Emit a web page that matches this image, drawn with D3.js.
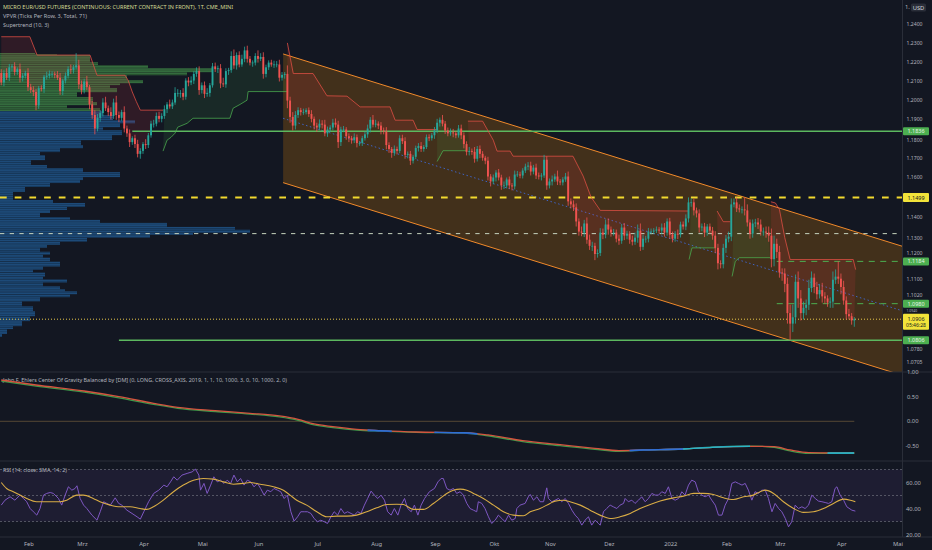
<!DOCTYPE html>
<html><head><meta charset="utf-8">
<script src="https://cdn.jsdelivr.net/npm/d3@7"></script>
<style>
html,body{margin:0;padding:0;background:#131722;overflow:hidden;}
svg{display:block;font-family:"Noto Sans","Open Sans",sans-serif;}
</style></head><body>
<svg id="c" width="932" height="550"></svg>
<script>
// ---------------- DATA ----------------
// daily closes, in pips above 1.0000 (e.g. 2090 = 1.2090), weekdays from 2021-01-18
const closes = [
2090,2140,2115,2170,2175, 2145,2160,2115,2125,2140, 2065,2050,2040,1970,2060, 2055,2120,2125,2135,2135,
2130,2115,2045,2100,2125, 2160,2155,2170,2180,2080, 2050,2095,2065,1975,1920, 1850,1905,1930,1985,1955,
1935,1915,1985,1920,1905, 1935,1850,1825,1780,1800, 1770,1720,1735,1770,1765, 1815,1875,1875,1915,1900,
1915,1950,1975,1965,1985, 2035,2035,2035,2015,2100, 2090,2100,2135,2150,2050, 2075,2030,2035,2075,2175,
2160,2165,2085,2080,2150, 2155,2230,2180,2235,2185, 2215,2260,2215,2195,2195, 2230,2215,2225,2135,2170,
2195,2185,2185,2185,2115, 2130,2135,1995,1910,1865, 1920,1945,1935,1935,1945, 1925,1900,1865,1855,1875,
1870,1825,1845,1855,1880, 1870,1780,1845,1845,1810, 1800,1790,1805,1775,1775, 1800,1820,1850,1895,1870,
1875,1865,1840,1835,1765, 1745,1725,1745,1735,1800, 1785,1715,1720,1685,1705, 1750,1760,1745,1755,1805,
1800,1815,1840,1880,1895, 1875,1840,1825,1830,1825, 1815,1850,1815,1770,1730, 1735,1730,1695,1745,1720,
1700,1685,1605,1580,1600, 1625,1600,1560,1560,1590, 1560,1555,1615,1615,1610, 1635,1655,1660,1630,1650,
1610,1605,1610,1690,1560, 1580,1590,1605,1580,1575, 1590,1605,1480,1465,1450, 1380,1330,1325,1370,1290,
1260,1260,1220,1225,1325, 1315,1365,1340,1325,1325, 1295,1285,1350,1310,1320, 1290,1280,1300,1335,1255,
1295,1295,1330,1330,1335, 1340,1335,1350,1325,1380, 1315,1295,1320,1315,1365, 1355,1395,1475,1475,1435,
1420,1350,1355,1325,1355, 1335,1310,1250,1175,1170, 1250,1295,1305,1465,1475, 1445,1440,1440,1435,1375,
1320,1370,1375,1365,1330, 1330,1325,1310,1195,1270, 1230,1130,1125,1075,935, 885,915,1085,1005,935,
960,975,1055,1105,1060, 1025,1045,1015,1005,985, 990,1095,1110,1100,1060, 995,930,920,900,906
];
const firstOpen = 2140;
// upper / lower wick length in pips
const wickUp = [
20,15,25,18,12, 22,10,30,15,12, 25,18,20,15,12, 15,10,22,18,14, 12,20,25,10,18, 15,25,12,65,30, 20,15,30,12,18, 25,20,15,22,30,
14,25,20,35,18, 12,30,15,20,10, 18,22,14,10,25, 12,15,20,18,22, 14,20,12,25,15, 30,20,15,25,12, 18,22,14,20,25, 15,20,25,12,18,
20,14,22,30,15, 12,25,35,14,20, 22,20,25,15,12, 15,30,20,25,14, 12,15,20,18,25, 15,10,45,20,25, 20,15,12,18,10, 14,20,12,15,22,
18,25,15,12,20, 22,20,14,18,12, 15,12,20,14,10, 12,15,20,14,25, 20,12,18,15,22, 14,10,18,12,15, 18,20,12,15,10, 12,15,20,10,14,
15,12,18,20,12, 25,14,15,20,18, 12,18,20,15,14, 20,12,25,15,18, 14,10,20,12,15, 12,18,14,20,10, 15,12,20,18,14, 12,15,18,20,14,
20,15,12,25,18, 15,20,14,30,12, 12,18,25,15,20, 20,15,25,18,30, 25,20,15,18,22, 20,25,30,15,18, 15,20,18,22,14, 12,20,25,30,35,
20,14,18,15,12, 15,12,20,22,15, 18,15,12,20,14, 15,20,25,20,18, 14,20,15,18,12, 15,18,22,20,14, 20,18,25,30,20, 25,20,15,59,30,
15,20,18,22,25, 20,25,30,35,40, 25,30,20,25,30, 40,60,35,50,40, 30,25,40,30,20, 25,30,35,20,15, 20,40,35,74,25, 30,20,25,15,10
];
const wickDn = [
15,20,12,18,22, 18,15,25,20,14, 20,15,22,25,18, 12,20,15,14,18, 18,12,20,22,15, 14,20,18,12,25, 22,18,15,25,20, 30,15,20,18,14,
20,18,15,25,22, 15,20,18,25,14, 20,18,25,15,20, 15,12,20,14,18, 18,15,20,12,14, 12,20,25,18,15, 20,14,18,15,25, 18,22,15,20,12,
15,20,25,14,18, 20,14,18,22,15, 12,18,20,15,22, 15,20,12,25,18, 14,12,18,15,20, 15,20,40,30,25, 20,15,18,14,12, 15,18,20,22,14,
20,15,18,12,14, 15,30,20,14,18, 20,18,15,22,14, 15,12,18,20,14, 14,18,20,15,22, 20,25,15,18,12, 15,20,18,22,14, 12,18,15,14,10,
15,12,18,14,20, 14,18,15,12,20, 15,12,20,22,18, 18,15,20,14,22, 15,18,20,25,14, 20,15,22,18,15, 18,20,15,12,14, 15,12,18,20,14,
18,15,20,12,22, 15,20,12,18,14, 15,12,22,20,18, 25,20,18,22,20, 20,25,30,18,15, 22,18,25,20,15, 18,20,15,22,18, 20,18,15,25,20,
15,20,18,14,12, 12,15,18,20,15, 20,18,15,22,14, 15,18,20,22,25, 20,25,18,22,15, 15,20,25,30,20, 20,25,18,22,15, 18,15,20,25,20,
25,20,18,22,20, 20,25,30,40,35, 30,25,35,40,50, 79,40,30,45,35, 30,35,25,20,30, 25,20,30,25,20, 25,30,20,25,35, 20,25,15,20,30
];
// Supertrend (10,3) knots: [bar, pips]
const stRed1 = [[0,2333],[10.7,2333],[13.4,2235],[33.2,2235],[35.8,2128],[46.3,2128],[47.5,2100],[49,2040],[50.5,1990],[52,1945],[60.5,1945]];
const stGreen1 = [[60.5,1734],[62,1790],[63.5,1805],[65,1826],[66,1857],[69.5,1877],[71.7,1903],[85.5,1903],[86.7,1955],[89.3,1975],[91.9,1997],[92.3,2042],[106.9,2042]];
const stRed2 = [[107,2300],[109.2,2137],[116.6,2137],[121.8,2020],[129.3,2018],[134.2,1962],[145.4,1962],[147.3,1893],[154,1893],[155.5,1845],[163,1845]];
const stGreen2 = [[163,1681],[165.2,1736],[174.2,1736]];
const stRed3 = [[174.5,1888],[180,1888],[184,1790],[185.4,1734],[190.3,1734],[191.4,1708],[213.8,1708],[217.6,1607],[220.5,1503],[224,1435],[257,1432]];
const stGreen3 = [[257.2,1193],[258.3,1250],[267.2,1250]];
const stRed4 = [[267.7,1432],[270,1379],[272.6,1379]];
const stGreen4 = [[273.3,1111],[274.5,1184],[276,1202],[287.5,1202]];
const stRed5 = [[287.8,1478],[289.5,1472],[291,1440],[293,1300],[295,1193],[318.6,1193],[319.5,1144]];
// Volume profile rows: [row top in pips, relative volume]
const vpRows = [
[2246,35],[2240,57],[2235,90],[2197,98],[2181,148],[2165,213],[2144,187],[2128,127],[2112,127],[2102,143],[2086,120],[2076,110],[2060,117],[2039,77],[2013,93],[1987,97],[1971,67],[1955,100],
[1940,103],[1919,113],[1893,135],[1877,120],[1857,103],[1841,122],[1816,112],[1790,81],[1764,83],[1749,60],[1729,40],[1713,45],[1688,31],[1663,47],[1647,83],[1627,120],[1602,83],[1587,80],[1572,50],[1552,25],[1527,13],[1502,13],[1487,53],[1472,85],[1452,67],[1437,50],[1422,40],[1402,70],[1388,100],[1373,167],[1353,235],[1339,250],[1324,193],[1314,150],[1300,87],[1280,60],[1265,47],[1251,40],[1231,50],[1217,43],[1202,50],[1183,60],[1159,43],[1144,33],[1130,45],[1110,43],[1096,67],[1082,43],[1063,60],[1049,65],[1039,77],[1025,70],[1011,40],[991,22],[967,33],[944,35],[920,30],[897,22],[873,13],[859,7],[836,2]
];
const vpBottom = 822;
const vpSplit = 1940;
// regression channel
const channelBars = [105.4, 336.9];
const channelUpper = [1.2241, 1.1258];
const channelLower = [1.1574, 1.0643];
// horizontal levels: [price, start bar]
const levelRes = [1.1836, 49];
const levelYellow = [1.1499, 0];
const levelWhite = [1.1320, 0];
const levelRes2 = [1.1184, 290];
const levelSup = [1.0980, 290];
const levelLow = [1.0806, 44];
const lastPrice = 1.0906;
const lastTime = "05:46:28";
// price axis ticks
const priceTicks = [1.24,1.23,1.22,1.21,1.20,1.19,1.18,1.17,1.16,1.14,1.13,1.12,1.11,1.102,1.094,1.078,1.0705];
// time axis
const startDate = [2021,0,18];
const monthTicks = [[2021,1,"Feb"],[2021,2,"Mrz"],[2021,3,"Apr"],[2021,4,"Mai"],[2021,5,"Jun"],[2021,6,"Jul"],[2021,7,"Aug"],[2021,8,"Sep"],[2021,9,"Okt"],[2021,10,"Nov"],[2021,11,"Dez"],[2022,0,"2022"],[2022,1,"Feb"],[2022,2,"Mrz"],[2022,3,"Apr"],[2022,4,"Mai"]];
// Center of Gravity pane
const cogBars = [0,13,31,44,57,66,80,93,104,111,117,124,133,142,155,173,182,195,209,222,231,240,255,266,280,289,295,302,311,319];
const cogA = [0.843,0.741,0.618,0.503,0.367,0.285,0.217,0.163,0.109,0.041,-0.054,-0.109,-0.163,-0.190,-0.218,-0.231,-0.279,-0.395,-0.476,-0.551,-0.599,-0.585,-0.565,-0.531,-0.510,-0.517,-0.585,-0.640,-0.647,-0.647];
const cogB = [0.82,0.72,0.595,0.48,0.345,0.265,0.2,0.148,0.09,0.02,-0.075,-0.128,-0.178,-0.2,-0.225,-0.24,-0.295,-0.415,-0.497,-0.57,-0.612,-0.59,-0.565,-0.527,-0.505,-0.53,-0.605,-0.655,-0.655,-0.65];
const cogBlueRanges = [[137,146],[162,178],[235,255]];
const cogTealRanges = [[255,280],[309,319]];
const cogTicks = [1.0,0.5,0.0,-0.5];
// RSI pane: [bar, value]
const rsiPts = [[0,42.6],[1.4,46.4],[3.3,49.0],[5.1,46.4],[7.0,50.3],[8.3,47.7],[9.5,45.2],[10.8,40.0],[12.0,37.5],[13.3,34.9],[14.5,40.0],[15.8,50.3],[17.0,51.6],[18.3,52.3],[19.5,51.6],[21.4,47.7],[22.6,42.6],[23.9,50.3],[25.1,56.7],[26.4,54.1],[27.6,55.4],[28.3,57.5],[29.5,47.7],[30.8,42.6],[32.0,40.0],[33.9,34.9],[35.8,31.0],[37.0,37.5],[38.3,45.2],[39.5,43.9],[40.8,42.6],[42.6,48.2],[43.9,43.9],[45.1,42.6],[47.0,38.7],[48.9,36.2],[50.8,33.6],[52.0,31.8],[53.3,37.5],[55.1,45.2],[57.0,51.6],[58.9,54.1],[60.8,58.0],[62.0,56.7],[63.3,60.5],[64.5,64.4],[65.8,61.8],[67.6,65.7],[69.5,67.0],[71.4,68.2],[72.6,70.3],[73.9,65.7],[74.5,54.1],[75.8,59.3],[77.0,51.6],[78.3,58.0],[79.5,64.4],[80.8,60.5],[82.0,61.8],[83.3,59.3],[84.5,61.8],[85.8,59.3],[87.0,65.7],[88.3,60.5],[89.5,63.1],[90.8,58.0],[92.0,61.8],[93.3,60.5],[94.5,56.7],[95.8,59.3],[97.0,55.4],[98.3,50.3],[99.5,54.1],[100.8,52.9],[102.0,55.4],[103.3,54.1],[104.5,52.9],[105.8,47.7],[107.0,50.3],[108.3,37.5],[109.5,30.3],[110.8,33.6],[112.0,37.5],[113.3,37.5],[114.5,37.5],[115.8,36.2],[117.0,32.3],[118.3,29.8],[119.5,31.0],[120.8,29.8],[122.0,28.5],[123.3,33.6],[124.5,37.5],[125.8,34.9],[127.0,40.0],[128.3,36.2],[129.5,37.5],[130.8,36.2],[132.0,34.9],[133.3,37.5],[134.5,36.2],[135.8,42.6],[137.0,47.7],[138.3,53.4],[139.5,50.3],[140.8,47.7],[142.0,50.3],[143.3,46.4],[144.5,37.5],[145.8,34.9],[147.0,40.0],[148.3,34.9],[149.5,42.6],[150.8,47.7],[152.0,40.0],[153.3,37.5],[154.5,42.6],[155.8,34.9],[157.0,42.6],[158.3,47.7],[160.1,52.9],[162.0,55.4],[163.3,60.5],[164.5,63.1],[165.3,63.1],[166.6,55.4],[167.8,54.1],[169.1,55.4],[170.3,51.6],[171.6,52.9],[172.8,50.3],[174.1,43.9],[175.3,40.0],[176.6,38.7],[177.8,37.5],[178.4,45.2],[179.7,43.9],[180.9,40.0],[182.2,33.6],[183.4,28.5],[184.7,31.0],[185.9,34.9],[187.2,32.3],[188.4,29.8],[189.7,34.9],[190.9,31.0],[192.2,32.3],[192.8,40.0],[194.0,42.6],[195.9,43.9],[197.1,49.0],[197.8,50.8],[199.0,46.4],[200.3,49.0],[201.5,45.2],[202.8,45.2],[204.0,55.9],[204.6,47.7],[205.9,45.2],[207.1,46.4],[208.4,47.7],[209.6,45.2],[210.9,47.7],[212.1,43.9],[213.4,38.7],[214.6,34.9],[215.8,32.3],[217.1,27.2],[218.3,31.0],[219.6,33.6],[220.8,27.2],[222.1,31.0],[223.3,28.5],[224.0,27.2],[225.2,37.5],[226.4,40.0],[227.7,42.6],[228.9,41.3],[230.2,40.0],[231.4,42.6],[232.7,43.9],[233.3,47.7],[234.5,45.2],[235.8,46.4],[237.0,43.9],[238.3,46.4],[239.5,49.0],[240.8,45.2],[242.0,47.7],[243.3,51.6],[244.5,50.3],[245.8,50.3],[247.0,52.9],[248.3,51.6],[249.5,56.7],[250.8,47.7],[252.0,46.4],[253.3,47.7],[254.5,52.9],[255.7,50.3],[257.0,58.0],[258.2,61.8],[259.5,60.5],[260.7,52.9],[262.0,50.3],[263.2,49.0],[264.5,50.3],[265.7,46.4],[267.0,42.6],[268.2,34.9],[269.5,34.9],[270.7,42.6],[272.0,47.7],[273.2,59.3],[274.5,60.5],[275.7,59.3],[277.0,58.0],[278.2,59.3],[279.4,54.1],[280.7,46.4],[281.9,52.9],[283.2,51.6],[284.4,54.1],[285.7,54.1],[286.9,47.7],[288.2,37.5],[289.4,43.9],[290.7,40.0],[291.9,37.5],[293.2,32.3],[294.4,25.9],[295.6,29.8],[296.9,42.6],[298.1,40.0],[299.4,41.3],[300.6,40.0],[301.9,42.6],[303.1,50.3],[304.4,47.7],[305.6,45.7],[306.9,45.2],[308.1,44.6],[309.4,43.9],[310.6,45.2],[311.8,55.4],[312.5,56.7],[313.7,50.3],[315.0,46.4],[316.2,41.3],[318.1,38.7],[319.4,38.0]];
const rsiMaPts = [[0,60.0],[2.0,55.4],[4.5,52.9],[7.0,50.3],[9.5,47.7],[13.2,45.2],[17.0,45.2],[22.0,45.2],[24.5,46.4],[28.2,50.3],[30.7,50.3],[34.4,47.7],[36.9,45.2],[40.7,42.6],[44.4,41.3],[48.2,41.3],[51.9,40.0],[54.4,39.3],[56.9,41.3],[60.6,46.4],[64.4,52.9],[68.1,58.0],[71.9,61.8],[75.6,63.1],[79.3,62.6],[83.1,60.5],[86.8,58.7],[90.6,59.3],[93.0,60.0],[96.8,58.7],[101.8,56.7],[105.5,54.1],[108.0,50.3],[110.5,46.4],[114.2,42.6],[118.0,37.5],[121.7,33.6],[125.5,34.1],[129.2,34.1],[132.9,34.9],[136.7,37.5],[140.4,40.5],[144.2,43.1],[147.9,43.3],[150.4,43.1],[154.1,39.3],[157.9,39.3],[161.6,43.9],[164.1,47.7],[166.6,51.6],[169.1,54.1],[171.6,54.9],[174.1,54.1],[176.6,51.6],[180.3,47.7],[184.1,42.6],[187.8,37.5],[191.5,34.9],[195.3,34.4],[197.8,37.5],[201.5,40.0],[205.2,43.9],[207.1,45.7],[210.2,46.4],[212.7,45.2],[216.5,42.6],[220.2,38.7],[223.9,34.9],[227.7,32.3],[231.4,33.6],[235.2,36.2],[238.9,40.0],[242.7,43.1],[246.4,45.7],[251.4,48.2],[255.1,49.5],[258.9,51.6],[262.6,51.6],[266.3,50.8],[270.1,48.2],[273.8,46.9],[277.6,49.0],[281.3,50.3],[283.8,52.9],[285.7,54.1],[288.8,51.6],[292.5,45.2],[296.3,40.0],[300.0,37.0],[303.7,37.5],[307.5,40.0],[311.2,43.9],[315.0,47.2],[317.5,46.4],[319.4,45.2]];
const rsiLevels = [70,50,30];
const rsiTicks = [60,40,20];
// header texts
const titleText = "MICRO EUR/USD FUTURES (CONTINUOUS: CURRENT CONTRACT IN FRONT), 1T, CME_MINI";
const vpvrText = "VPVR (Ticks Per Row, 3, Total, 71)";
const stText = "Supertrend (10, 3)";
const cogText = "John F. Ehlers Center Of Gravity Balanced by [DM] (0, LONG, CROSS_AXIS, 2019, 1, 1, 10, 1000, 3, 0, 10, 1000, 2, 0)";
const rsiText = "RSI (14, close, SMA, 14, 2)";

// ---------------- DRAW ----------------
const svg = d3.select("#c");
const PX = p => 1 + p/1e4;
const nBars = closes.length;
const candles = closes.map((c,i)=>{
  const o = PX(i ? closes[i-1] : firstOpen), cl = PX(c);
  return {i, o, c:cl, h:Math.max(o,cl)+wickUp[i]/1e4, l:Math.min(o,cl)-wickDn[i]/1e4};
});
const dates = [];
{ const d = new Date(startDate[0], startDate[1], startDate[2]);
  while (dates.length < 360) { const wd=d.getDay(); if (wd!==0 && wd!==6) dates.push(new Date(d)); d.setDate(d.getDate()+1); } }

const x = d3.scaleLinear().domain([0, 319]).range([1.26, 854.3]);
const y = d3.scaleLog().domain([1.07, 1.24]).range([363.0, 24.3]);
const yCog = d3.scaleLinear().domain([0, 1]).range([421.3, 372.3]);
const yRsi = d3.scaleLinear().domain([30, 70]).range([521.5, 469.5]);
const vx = d3.scaleLinear().domain([0, 250]).range([0, 250]);
const PLOT_R = 902;

svg.append("rect").attr("width",932).attr("height",550).attr("fill","#131722");

const defs = svg.append("defs");
defs.append("clipPath").attr("id","mainClip").append("rect").attr("x",0).attr("y",0).attr("width",PLOT_R).attr("height",372);
function stripe(id, col){
  const p = defs.append("pattern").attr("id",id).attr("patternUnits","userSpaceOnUse").attr("width",10).attr("height",2.2);
  p.append("rect").attr("width",10).attr("height",2.2).attr("fill",col);
  p.append("rect").attr("y",1.5).attr("width",10).attr("height",0.7).attr("fill","rgba(0,0,0,0.28)");
}
stripe("vpG","#346b3e");
stripe("vpB","#1d4a78");

const main = svg.append("g").attr("clip-path","url(#mainClip)");

// Volume profile
vpRows.forEach((r,k)=>{
  const top = PX(r[0]);
  const bot = PX(k < vpRows.length-1 ? vpRows[k+1][0] : vpBottom);
  main.append("rect").attr("x",0).attr("y",y(top)).attr("width",vx(r[1])).attr("height",Math.max(0.5,y(bot)-y(top)))
    .attr("fill", r[0] > vpSplit ? "url(#vpG)" : "url(#vpB)");
});

// Regression channel
{
  const [b0,b1] = channelBars;
  const poly = [[x(b0),y(channelUpper[0])],[x(b1),y(channelUpper[1])],[x(b1),y(channelLower[1])],[x(b0),y(channelLower[0])]];
  main.append("path").attr("d","M"+poly.map(p=>p.join(",")).join("L")+"Z").attr("fill","rgba(255,152,0,0.2)");
  main.append("line").attr("x1",x(b0)).attr("y1",y(channelUpper[0])).attr("x2",x(b1)).attr("y2",y(channelUpper[1])).attr("stroke","#f0892a").attr("stroke-width",1);
  main.append("line").attr("x1",x(b0)).attr("y1",y(channelLower[0])).attr("x2",x(b1)).attr("y2",y(channelLower[1])).attr("stroke","#f0892a").attr("stroke-width",1);
  main.append("line").attr("x1",x(b0)).attr("y1",(y(channelUpper[0])+y(channelLower[0]))/2).attr("x2",x(b1)).attr("y2",(y(channelUpper[1])+y(channelLower[1]))/2)
    .attr("stroke","#3f63c4").attr("stroke-width",1).attr("stroke-dasharray","1.5,2.5");
}

// Supertrend fills & lines
const stSegs = [[stRed1,-1],[stGreen1,1],[stRed2,-1],[stGreen2,1],[stRed3,-1],[stGreen3,1],[stRed4,-1],[stGreen4,1],[stRed5,-1]];
stSegs.forEach(([pts,dir])=>{
  const a = pts[0][0], b = pts[pts.length-1][0];
  const poly = pts.map(p=>[x(p[0]), y(PX(p[1]))]);
  for (let k=Math.min(nBars-1,Math.floor(b)); k>=Math.max(0,Math.ceil(a)); k--) {
    const cd = candles[k]; poly.push([x(k), y((cd.o+cd.c)/2)]);
  }
  main.append("path").attr("d","M"+poly.map(p=>p.join(",")).join("L")+"Z")
    .attr("fill", dir<0 ? "rgba(242,54,69,0.13)" : "rgba(76,175,80,0.12)");
});

// levels
function hline(lv, color, width, dash){
  main.append("line").attr("x1", lv[1] > 0 ? x(lv[1]) : 0).attr("x2",PLOT_R).attr("y1",y(lv[0])).attr("y2",y(lv[0]))
    .attr("stroke",color).attr("stroke-width",width).attr("stroke-dasharray",dash||null);
}
hline(levelWhite, "#c5d3bd", 1, "4.3,5.4");
hline(levelYellow, "#f2d92e", 2, "6.7,8");
hline(levelRes, "#5cb85f", 1.5);
hline(levelLow, "#5cb85f", 1.5);
hline(levelRes2, "#4caf50", 1, "6,5.5");
hline(levelSup, "#4caf50", 1, "6,5.5");
hline([lastPrice,0], "#e8c84a", 1, "1,2");

stSegs.forEach(([pts,dir])=>{
  main.append("path").attr("d", d3.line().x(p=>x(p[0])).y(p=>y(PX(p[1])))(pts))
    .attr("fill","none").attr("stroke", dir<0 ? "rgba(230,80,70,0.75)" : "rgba(76,175,80,0.75)").attr("stroke-width",1);
});

// candles
const cg = main.append("g");
candles.forEach(cd=>{
  const col = cd.c >= cd.o ? "#26a69a" : "#ef5350";
  const cx = x(cd.i);
  cg.append("line").attr("x1",cx).attr("x2",cx).attr("y1",y(cd.h)).attr("y2",y(cd.l)).attr("stroke",col).attr("stroke-width",0.8);
  const yt = y(Math.max(cd.o,cd.c)), yb = y(Math.min(cd.o,cd.c));
  cg.append("rect").attr("x",cx-0.95).attr("width",1.9).attr("y",yt).attr("height",Math.max(0.7,yb-yt)).attr("fill",col);
});

// header texts
function txt(g, s, tx, ty, size, col, len, anchor){
  const t = g.append("text").attr("x",tx).attr("y",ty).attr("font-size",size).attr("fill",col).text(s);
  if (len) t.attr("textLength",len).attr("lengthAdjust","spacingAndGlyphs");
  if (anchor) t.attr("text-anchor",anchor);
  return t;
}
txt(svg, titleText, 3, 9, 6, "#d6dc95", 230);
txt(svg, vpvrText, 3, 18, 6, "#b2b5be", 84);
txt(svg, stText, 3, 27, 6, "#b2b5be", 46);

// pane separators and axis border
svg.append("line").attr("x1",PLOT_R+0.5).attr("x2",PLOT_R+0.5).attr("y1",0).attr("y2",537).attr("stroke","#2a2e39");
[372, 461, 537].forEach(v=> svg.append("line").attr("x1",0).attr("x2",932).attr("y1",v).attr("y2",v).attr("stroke","#2a2e39"));

// price axis: boxes first define obstacles, tick labels avoid them
const ax = svg.append("g");
const boxes = [];
function priceBox(p, bg, fg, h){
  const yy = y(p);
  boxes.push([yy-h/2, yy+h/2]);
  ax.append("rect").attr("x",903).attr("y",yy-h/2).attr("width",26).attr("height",h).attr("rx",1).attr("fill",bg);
  txt(ax, p.toFixed(4), 916, yy+2.1, 5.8, fg, 17, "middle");
}
priceBox(levelRes[0], "#4caf50", "#e8f5e9", 8);
priceBox(levelYellow[0], "#f2e33a", "#131722", 9);
priceBox(levelRes2[0], "#4caf50", "#e8f5e9", 8);
priceBox(levelSup[0], "#4caf50", "#e8f5e9", 8);
priceBox(levelLow[0], "#4caf50", "#e8f5e9", 8);
{
  const yy = y(lastPrice);
  boxes.push([yy-5.5, yy+10.5]);
  ax.append("rect").attr("x",903).attr("y",yy-5.5).attr("width",26).attr("height",16).attr("rx",1).attr("fill","#f2e33a");
  txt(ax, lastPrice.toFixed(4), 916, yy+1.7, 5.8, "#131722", 17, "middle");
  txt(ax, lastTime, 916, yy+8.3, 5.3, "#131722", 20, "middle");
}
const tickG = svg.append("g");
priceTicks.forEach(t=>{
  const ty = y(t);
  let fs = 5.8, h = fs*1.36;
  let top = ty - 4.2;
  const above = boxes.filter(b=> (b[0]+b[1])/2 <= ty).sort((a,b)=>b[1]-a[1])[0];
  const below = boxes.filter(b=> (b[0]+b[1])/2 > ty).sort((a,b)=>a[0]-b[0])[0];
  const lo = above ? above[1]+0.4 : -1e9, hi = below ? below[0]-0.4 : 1e9;
  if (hi - lo < h) { fs = Math.max(3.5, (hi-lo)/1.36); h = fs*1.36; top = lo; }
  else { if (top < lo) top = lo; if (top + h > hi) top = hi - h; }
  const base = top + h*0.786;
  txt(tickG, t.toFixed(4), 906.5, base, fs, "#b2b5be", 16*fs/5.8);
});
txt(ax, "1.", 905, 9, 5.8, "#b2b5be");
ax.append("rect").attr("x",911).attr("y",3.5).attr("width",15).attr("height",8).attr("rx",1.5).attr("fill","#2a2e39");
txt(ax, "USD", 918.5, 9.5, 5.8, "#d1d4dc", null, "middle");

// COG pane
const cogG = svg.append("g");
txt(cogG, cogText, 3, 382, 5.5, "#b2b5be", 284);
cogG.append("line").attr("x1",0).attr("x2",x(319)).attr("y1",yCog(0)).attr("y2",yCog(0)).attr("stroke","rgba(150,120,70,0.5)").attr("stroke-width",1);
const cogLine = d3.line().curve(d3.curveMonotoneX);
const ptsA = cogBars.map((b,k)=>[x(b), yCog(cogA[k])]);
const ptsB = cogBars.map((b,k)=>[x(b), yCog(cogB[k])]);
cogG.append("path").attr("d",cogLine(ptsB)).attr("fill","none").attr("stroke","#3d9a4a").attr("stroke-width",1.3);
cogG.append("path").attr("d",cogLine(ptsA)).attr("fill","none").attr("stroke","#d4553f").attr("stroke-width",1.3);
function overlay(ranges, colA, colB, id){
  ranges.forEach((r,k)=>{
    const cid = id+k;
    defs.append("clipPath").attr("id",cid).append("rect").attr("x",x(r[0])).attr("y",372).attr("width",x(r[1])-x(r[0])).attr("height",89);
    cogG.append("path").attr("d",cogLine(ptsB)).attr("fill","none").attr("stroke",colB).attr("stroke-width",1.3).attr("clip-path",`url(#${cid})`);
    cogG.append("path").attr("d",cogLine(ptsA)).attr("fill","none").attr("stroke",colA).attr("stroke-width",1.3).attr("clip-path",`url(#${cid})`);
  });
}
overlay(cogBlueRanges, "#2f6fd6", "#1f5fb5", "cb");
overlay(cogTealRanges, "#29b6c8", "#1e90a8", "ct");
cogTicks.forEach(t=> txt(cogG, t.toFixed(2), t<0 ? 905.5 : 907, yCog(t)+2, 5.8, "#b2b5be"));

// RSI pane
const rg = svg.append("g");
rg.append("rect").attr("x",0).attr("width",PLOT_R).attr("y",yRsi(70)).attr("height",yRsi(30)-yRsi(70)).attr("fill","rgba(126,87,194,0.1)");
rsiLevels.forEach(v=> rg.append("line").attr("x1",0).attr("x2",PLOT_R).attr("y1",yRsi(v)).attr("y2",yRsi(v))
  .attr("stroke","rgba(120,123,134,0.6)").attr("stroke-dasharray","2,2"));
rg.append("path").attr("d", d3.line().x(p=>x(p[0])).y(p=>yRsi(p[1]))(rsiPts)).attr("fill","none").attr("stroke","#7e57c2").attr("stroke-width",1);
rg.append("path").attr("d", d3.line().curve(d3.curveMonotoneX).x(p=>x(p[0])).y(p=>yRsi(p[1]))(rsiMaPts)).attr("fill","none").attr("stroke","#d9ac45").attr("stroke-width",1.1);
txt(rg, rsiText, 3, 471.5, 5.5, "#b2b5be", 64);
rsiTicks.forEach(t=> txt(rg, t.toFixed(2), 906, yRsi(t)+2, 5.8, "#b2b5be"));

// time axis
monthTicks.forEach(m=>{
  const idx = dates.findIndex(d=> d.getFullYear()===m[0] && d.getMonth()===m[1]);
  txt(svg, m[2], x(idx)+1, 545.5, 5.8, "#b2b5be", null, "middle");
});
</script>
</body></html>
